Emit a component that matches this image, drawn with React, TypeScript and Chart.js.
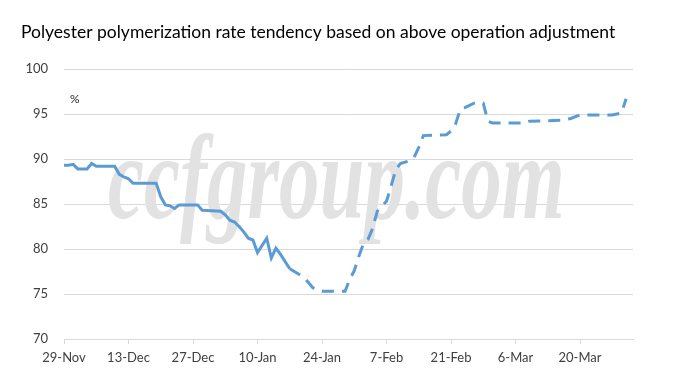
import React, { useEffect, useRef } from "react";
import { Chart, registerables } from "chart.js";

Chart.register(...registerables);

// Day offsets counted from 29-Nov
const solidDays = [0, 1, 2, 3, 5, 6, 7, 11, 12, 13, 14, 15, 20, 21, 22, 23, 24, 25, 29, 30, 34, 35, 36, 37, 38, 39, 40, 41, 42, 44, 45, 46, 47, 49];
const solidValues = [89.3, 89.3, 89.4, 88.9, 88.9, 89.5, 89.2, 89.2, 88.3, 88.0, 87.8, 87.3, 87.3, 85.8, 84.9, 84.8, 84.5, 84.9, 84.9, 84.3, 84.2, 83.8, 83.2, 83.0, 82.5, 81.9, 81.2, 81.0, 79.6, 81.2, 79.0, 80.1, 79.4, 77.8];

const dashedDays = [49, 51, 52, 53, 54, 56, 61, 62, 63, 64, 65, 66, 67, 68, 69, 70, 71, 72, 73, 75, 76, 77, 78, 83, 84, 85, 86, 87, 89, 91, 92, 93, 100, 101, 108, 110, 112, 119, 121, 122];
const dashedValues = [77.8, 77.2, 76.9, 76.3, 75.7, 75.3, 75.3, 76.6, 77.6, 79.2, 80.6, 81.1, 82.3, 84.2, 84.8, 85.3, 87.0, 88.8, 89.5, 89.8, 90.2, 91.3, 92.6, 92.7, 93.1, 93.9, 95.5, 95.7, 96.2, 96.2, 94.2, 94.0, 94.0, 94.2, 94.3, 94.5, 94.9, 94.9, 95.1, 96.7];

const tickLabels = ["29-Nov", "13-Dec", "27-Dec", "10-Jan", "24-Jan", "7-Feb", "21-Feb", "6-Mar", "20-Mar"];

const titleText = "Polyester polymerization rate tendency based on above operation adjustment";
const unitText = "%";
const watermarkText = "ccfgroup.com";

const LINE_COLOR = "#5B9BD5";
const GRID_COLOR = "#D9D9D9";
const TICK_COLOR = "#404040";
const FONT = "Lato, 'Open Sans', sans-serif";

const decorPlugin = {
  id: "decor",
  beforeDatasetsDraw(chart: any) {
    const ctx = chart.ctx;
    ctx.save();
    ctx.fillStyle = "rgb(226,226,226)";
    ctx.font = "italic bold 81px 'Liberation Serif', serif";
    ctx.textBaseline = "alphabetic";
    ctx.translate(108, 218);
    ctx.scale(1, 1.48);
    ctx.fillText(watermarkText, 0, 0);
    ctx.restore();
  },
  afterDraw(chart: any) {
    const ctx = chart.ctx;
    const area = chart.chartArea;
    ctx.save();
    ctx.fillStyle = "#000000";
    ctx.font = `17.5px ${FONT}`;
    ctx.textBaseline = "middle";
    ctx.textAlign = "left";
    ctx.fillText(titleText, 21, 32);
    ctx.font = `12px ${FONT}`;
    ctx.fillStyle = "#262626";
    ctx.fillText(unitText, area.left + 6, chart.scales.y.getPixelForValue(96.6));
    ctx.restore();
  },
};

export default function App() {
  const ref = useRef<HTMLCanvasElement>(null);

  useEffect(() => {
    if (!ref.current) return;
    const chart = new Chart(ref.current, {
      type: "line",
      data: {
        datasets: [
          {
            data: solidDays.map((d, i) => ({ x: d, y: solidValues[i] })),
            borderColor: LINE_COLOR,
            borderWidth: 3,
            pointRadius: 0,
            tension: 0,
            fill: false,
          },
          {
            data: dashedDays.map((d, i) => ({ x: d, y: dashedValues[i] })),
            borderColor: LINE_COLOR,
            borderWidth: 3,
            borderDash: [12, 8],
            pointRadius: 0,
            tension: 0,
            fill: false,
          },
        ],
      },
      options: {
        animation: false,
        responsive: false,
        devicePixelRatio: 1,
        layout: { padding: { top: 69, right: 46, left: 0, bottom: 0 } },
        plugins: {
          legend: { display: false },
          tooltip: { enabled: false },
          title: { display: false },
        },
        scales: {
          x: {
            type: "linear",
            min: 0,
            max: 123.5,
            afterFit: (s: any) => {
              s.height = 41;
            },
            grid: {
              drawOnChartArea: false,
              drawTicks: true,
              tickLength: 5,
              color: GRID_COLOR,
            },
            border: { display: true, color: GRID_COLOR, width: 1 },
            ticks: {
              stepSize: 14,
              includeBounds: false,
              autoSkip: false,
              maxRotation: 0,
              padding: 6,
              color: TICK_COLOR,
              font: { family: FONT, size: 13 },
              callback: (v: any) => {
                const i = Number(v) / 14;
                return Number.isInteger(i) && tickLabels[i] ? tickLabels[i] : "";
              },
            },
          },
          y: {
            min: 70,
            max: 100,
            afterFit: (s: any) => {
              s.width = 64;
            },
            grid: { color: GRID_COLOR, drawTicks: false },
            border: { display: false },
            ticks: {
              stepSize: 5,
              padding: 16,
              color: TICK_COLOR,
              font: { family: FONT, size: 13 },
            },
          },
        },
      },
      plugins: [decorPlugin],
    } as any);
    return () => chart.destroy();
  }, []);

  return (
    <div style={{ position: "fixed", left: 0, top: 0, width: 679, height: 380, background: "#ffffff" }}>
      <canvas ref={ref} width={679} height={380} style={{ display: "block" }} />
    </div>
  );
}
